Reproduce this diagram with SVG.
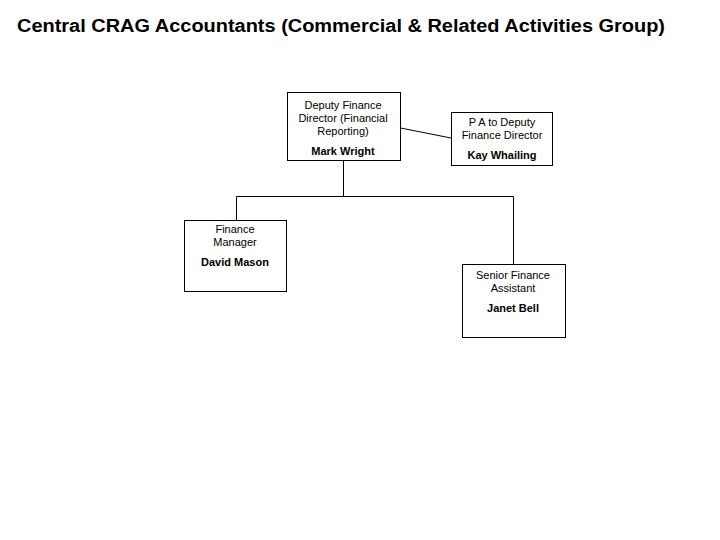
<svg xmlns="http://www.w3.org/2000/svg" width="720" height="540" viewBox="0 0 720 540">
<style>
.box{fill:#fff;stroke:#000;stroke-width:1}
.t{font-family:"Liberation Sans",Arial,sans-serif;font-size:11px;fill:#000;text-anchor:middle}
.b{font-weight:bold}
.c{fill:none;stroke:#000;stroke-width:1}
.title{font-family:"Liberation Sans",Arial,sans-serif;font-size:18px;font-weight:bold;fill:#000}
</style>
<rect width="720" height="540" fill="#fff"/>
<text class="title" x="17" y="32" textLength="648" lengthAdjust="spacingAndGlyphs">Central CRAG Accountants (Commercial &amp; Related Activities Group)</text>
<g id="connectors">
<line class="c" x1="400.5" y1="128" x2="451" y2="138"/>
<polyline class="c" points="343.5,161 343.5,196.5"/>
<polyline class="c" points="236.5,220 236.5,196.5 513.5,196.5 513.5,264"/>
</g>
<g id="deputy">
<rect class="box" x="287.5" y="92.5" width="113" height="68"/>
<text class="t" x="343" y="109">Deputy Finance</text>
<text class="t" x="343" y="122">Director (Financial</text>
<text class="t" x="343" y="135">Reporting)</text>
<text class="t b" x="343" y="155">Mark Wright</text>
</g>
<g id="pa">
<rect class="box" x="451.5" y="112.5" width="101" height="53"/>
<text class="t" x="502" y="126">P A to Deputy</text>
<text class="t" x="502" y="139">Finance Director</text>
<text class="t b" x="502" y="159">Kay Whailing</text>
</g>
<g id="finance-manager">
<rect class="box" x="184.5" y="220.5" width="102" height="71"/>
<text class="t" x="235" y="233">Finance</text>
<text class="t" x="235" y="246">Manager</text>
<text class="t b" x="235" y="266">David Mason</text>
</g>
<g id="senior-finance-assistant">
<rect class="box" x="462.5" y="264.5" width="103" height="73"/>
<text class="t" x="513" y="279">Senior Finance</text>
<text class="t" x="513" y="292">Assistant</text>
<text class="t b" x="513" y="312">Janet Bell</text>
</g>
</svg>
